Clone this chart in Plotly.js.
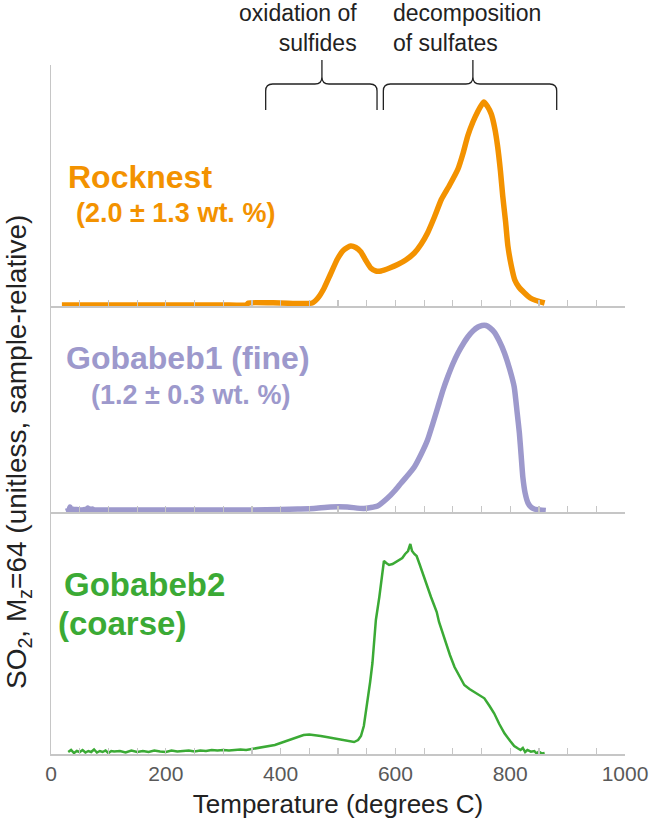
<!DOCTYPE html>
<html>
<head>
<meta charset="utf-8">
<script src="https://cdn.plot.ly/plotly-3.0.1.min.js"></script>
<style>html,body{margin:0;padding:0;background:#fff;}#chart{width:652px;height:829px;}</style>
</head>
<body>
<div id="chart"></div>
<script>
// Temperature axis (degrees C)
const xTickVals = [0, 200, 400, 600, 800, 1000];
const xTickText = ['0', '200', '400', '600', '800', '1000'];

// Rocknest SO2 signal (relative units)
const rockT = [19, 100, 200, 300, 340, 344, 400, 455, 465, 475, 487, 499, 510, 522, 531, 540, 548, 557, 566, 575, 590, 604, 618, 633, 645, 656, 668, 680, 694, 709, 718, 726, 735, 744, 750, 754, 760, 767, 773, 778, 783, 787, 792, 796, 802, 808, 815, 825, 835, 845, 860];
const rockV = [1, 1, 1, 1, 1, 3, 3, 3, 8, 17, 32, 47, 56, 60, 58.5, 54, 46, 38, 35, 35, 38, 41.5, 46, 53, 62, 73, 89, 106.5, 120.5, 137, 153, 170, 184, 195, 201, 204, 200, 192, 178, 160, 135, 110, 84, 60, 40, 26, 19, 13, 8, 5.5, 3];

// Gobabeb1 (fine) SO2 signal
const gob1T = [29, 31, 33, 35, 37, 40, 45, 50, 55, 60, 62, 64, 66, 68, 70, 72, 75, 80, 90, 100, 150, 200, 250, 300, 350, 400, 430, 458, 487, 516, 545, 569, 586, 600, 610, 622, 633, 645, 656, 665, 674, 683, 691, 700, 709, 718, 726, 735, 744, 751, 758, 765, 772, 781, 790, 799, 807, 812, 816, 819, 822, 826, 831, 836, 842, 852, 862];
const gob1V = [4, 0.5, 5, 2, 3, 2.5, 2.5, 2, 2, 2.5, 0.5, 4, 1, 3, 0.5, 3, 2, 2, 2, 2, 2, 2, 2, 2, 2, 2.5, 3, 3.5, 5, 5, 3.5, 6, 13.7, 22, 29, 37, 45, 58, 72, 88, 105, 122, 135, 148, 159, 168, 175, 181, 185, 186.5, 186.5, 184, 180, 171, 159, 143, 125, 100, 79, 57, 35, 19, 9, 5, 3, 2, 1.5];

// Gobabeb2 (coarse) SO2 signal
const gob2T = [30, 35, 40, 45, 50, 55, 60, 65, 70, 75, 80, 85, 90, 95, 100, 105, 110, 120, 130, 140, 150, 160, 170, 180, 190, 200, 210, 220, 230, 240, 250, 260, 270, 280, 290, 300, 310, 320, 330, 340, 350, 360, 370, 380, 390, 400, 410, 420, 430, 440, 450, 460, 470, 480, 490, 500, 510, 520, 528, 535, 540, 545, 551, 556, 560, 566, 572, 576, 580, 584, 589, 595, 601, 606, 612, 617, 622, 626, 629, 633, 637, 642, 646, 650, 656, 662, 668, 672, 676, 682, 688, 695, 703, 712, 720, 729, 738, 746, 755, 764, 772, 781, 790, 800, 807, 813, 818, 822, 826, 830, 836, 842, 846, 850, 855, 860];
const gob2V = [2, 4, 1, 3, 2, 4, 1.5, 3, 2, 4.5, 1.5, 3, 2, 3.5, 1, 3, 2.5, 3, 1.5, 3.5, 2, 3, 2, 3.5, 2.5, 2, 3.5, 2.5, 3, 3.5, 2.5, 3.5, 3, 4, 3.5, 4, 3.5, 4, 4.5, 4, 5, 5.5, 6.5, 7.5, 9, 11, 13, 15.5, 17.5, 19, 19.5, 19, 18, 17, 16, 15, 13.5, 13, 12, 14, 18, 28, 50, 72, 91, 134, 157, 178, 193, 191, 189, 190, 192, 194, 196, 200, 203, 210, 203, 200, 198, 190, 183, 177, 167, 157, 148, 142, 132, 121, 111, 99, 87, 77, 69, 65, 62, 59, 55.7, 48, 40.7, 30, 20.7, 13, 8, 5.7, 4, 6, 2, 4, 2.3, 3, 0.5, 2.5, 0.5, 1];

// Temperature ranges of the two braces [start, end, tip]
const braceRanges = [[374, 568, 472], [579, 881, 735]];
const braceLabels = ['oxidation of<br>sulfides', 'decomposition<br>of sulfates'];

const FONT = 'Liberation Sans, Arial, Helvetica, sans-serif';
const ORANGE = '#F39200', LAV = '#9D99CC', GREEN = '#3BAA35';
const AX = '#c6c6c6';

const traces = [
  {x: gob2T, y: gob2V, xaxis: 'x', yaxis: 'y', mode: 'lines', line: {color: GREEN, width: 2.5}, hoverinfo: 'skip'},
  {x: gob1T, y: gob1V, xaxis: 'x2', yaxis: 'y2', mode: 'lines', line: {color: LAV, width: 5.5, shape: 'spline', smoothing: 0.5}, hoverinfo: 'skip'},
  {x: rockT, y: rockV, xaxis: 'x3', yaxis: 'y3', mode: 'lines', line: {color: ORANGE, width: 5.5, shape: 'spline', smoothing: 0.5}, hoverinfo: 'skip'}
];

function xax(extra) {
  return Object.assign({
    range: [0, 1000], showline: true, linecolor: AX, linewidth: 1.5,
    ticks: 'inside', ticklen: 6, tickcolor: AX, tickwidth: 1.2,
    tickvals: xTickVals, ticktext: xTickText,
    minor: {dtick: 50, ticks: 'inside', ticklen: 6, tickcolor: AX, tickwidth: 1.2},
    showgrid: false, zeroline: false, fixedrange: true
  }, extra);
}
function yax(domain, top) {
  return {domain: domain, range: [0, top], showline: true, linecolor: AX, linewidth: 1.5,
    ticks: '', showticklabels: false, showgrid: false, zeroline: false, fixedrange: true};
}

const W = 652, H = 829, ML = 51, MR = 27, MT = 65, MB = 75;
const PW = W - ML - MR, PH = H - MT - MB;
const px2x = p => (p - ML) / PW;
const py2y = p => (H - MB - p) / PH;

const shapes = [];
const annotations = [];
braceRanges.forEach(function (b) {
  const xa = b[0] / 1000, xb = b[1] / 1000, xm = b[2] / 1000;
  const yEnd = py2y(110), yMid = py2y(84), yTip = py2y(60);
  const rx = 7 / PW, ry = 7 / PH;
  const path = 'M' + xa + ',' + yEnd + ' L' + xa + ',' + (yMid - ry) +
    ' Q' + xa + ',' + yMid + ' ' + (xa + rx) + ',' + yMid +
    ' L' + (xm - rx) + ',' + yMid + ' Q' + xm + ',' + yMid + ' ' + xm + ',' + (yMid + ry) +
    ' L' + xm + ',' + yTip +
    ' M' + xm + ',' + (yMid + ry) + ' Q' + xm + ',' + yMid + ' ' + (xm + rx) + ',' + yMid +
    ' L' + (xb - rx) + ',' + yMid + ' Q' + xb + ',' + yMid + ' ' + xb + ',' + (yMid - ry) +
    ' L' + xb + ',' + yEnd;
  shapes.push({type: 'path', xref: 'paper', yref: 'paper', path: path, line: {color: '#222', width: 1.3}});
});

annotations.push({xref: 'paper', yref: 'paper', x: px2x(359), y: py2y(28), xanchor: 'right', yanchor: 'middle', align: 'right',
  text: braceLabels[0], showarrow: false, font: {family: FONT, size: 23, color: '#222'}});
annotations.push({xref: 'paper', yref: 'paper', x: px2x(391), y: py2y(28), xanchor: 'left', yanchor: 'middle', align: 'left',
  text: braceLabels[1], showarrow: false, font: {family: FONT, size: 23, color: '#222'}});

function lab(text, xpx, ypx, size, color, anchor) {
  annotations.push({xref: 'paper', yref: 'paper', x: px2x(xpx), y: py2y(ypx), xanchor: anchor || 'left', yanchor: 'middle',
    text: '<b>' + text + '</b>', showarrow: false, font: {family: FONT, size: size, color: color}});
}
lab('Rocknest', 66, 177, 32, ORANGE);
lab('(2.0 ± 1.3 wt. %)', 74, 213, 27, ORANGE);
lab('Gobabeb1 (fine)', 64, 358, 32, LAV);
lab('(1.2 ± 0.3 wt. %)', 292, 395, 27, LAV, 'right');
lab('Gobabeb2', 62, 584, 33, GREEN);
lab('(coarse)', 122, 623, 33, GREEN, 'center');

annotations.push({xref: 'paper', yref: 'paper', x: px2x(18), y: py2y(452), xanchor: 'center', yanchor: 'middle', textangle: -90,
  text: 'SO<sub>2</sub>, M<sub>z</sub>=64 (unitless, sample-relative)', showarrow: false,
  font: {family: FONT, size: 28, color: '#222'}});

const bot = 242 / PH, mid = (754 - 306) / PH;
const layout = {
  width: W, height: H, margin: {l: ML, r: MR, t: MT, b: MB},
  paper_bgcolor: '#fff', plot_bgcolor: '#fff', showlegend: false,
  font: {family: FONT},
  xaxis: xax({anchor: 'y', tickfont: {family: FONT, size: 21, color: '#595959'},
    title: {text: 'Temperature (degrees C)', font: {family: FONT, size: 26, color: '#222'}, standoff: 11}}),
  xaxis2: xax({anchor: 'y2', matches: 'x', showticklabels: false}),
  xaxis3: xax({anchor: 'y3', matches: 'x', showticklabels: false}),
  yaxis: yax([0, bot], 242),
  yaxis2: yax([bot, mid], 206),
  yaxis3: yax([mid, 1], 241),
  shapes: shapes, annotations: annotations
};

Plotly.newPlot('chart', traces, layout, {staticPlot: true, displayModeBar: false});
</script>
</body>
</html>
